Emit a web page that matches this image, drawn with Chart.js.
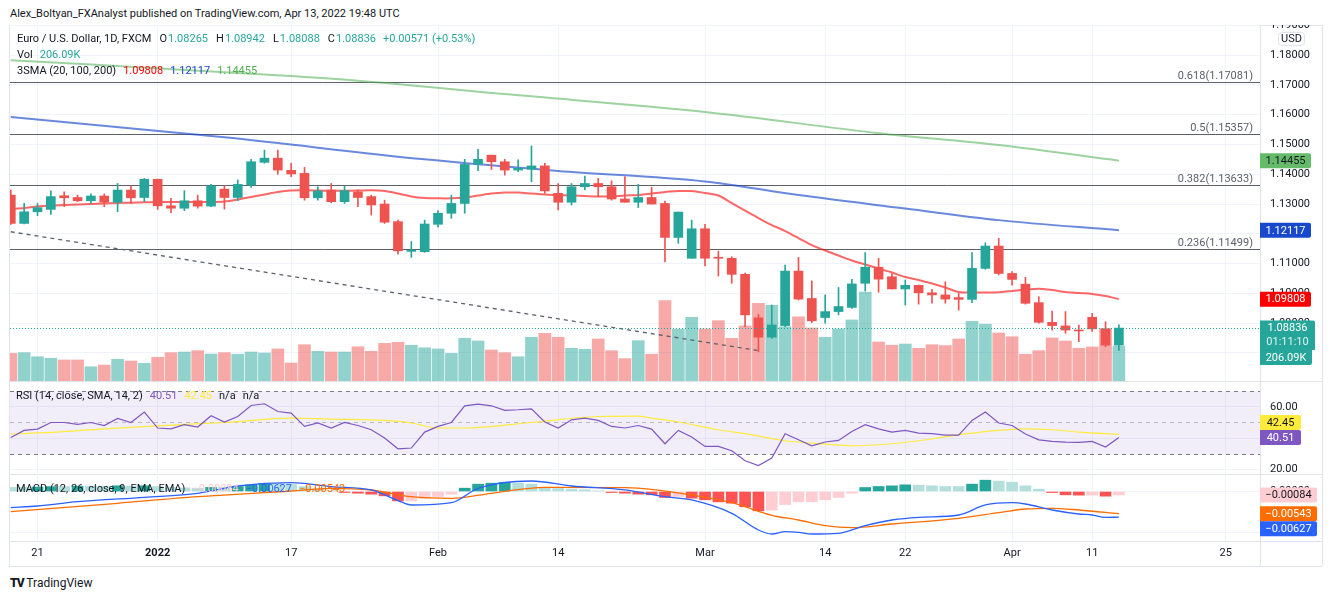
<!DOCTYPE html>
<html>
<head>
<meta charset="utf-8">
<title>EUR/USD 1D</title>
<script src="https://cdn.jsdelivr.net/npm/chart.js@4.4.1/dist/chart.umd.min.js"></script>
<style>
  body {
    margin: 0; width: 1332px; height: 599px; position: relative; overflow: hidden;
    background: #fff; color: #131722;
    font-family: Roboto, "Liberation Sans", Arial, sans-serif;
  }
  canvas { position: absolute; left: 10px; }
  .hline { position: absolute; left: 9px; width: 1313px; height: 1px; background: #e0e3eb; }
  .vline { position: absolute; top: 25px; width: 1px; height: 541px; background: #e0e3eb; }
  .txt { position: absolute; font-size: 11px; line-height: 14px; white-space: nowrap; z-index: 2; }
  .k { margin-left: 8px; }
  .v { margin-left: 1px; }
  .g { margin-left: 7px; }
  .up { color: #26a69a; }
</style>
</head>
<body>

<div class="txt" style="left:10px; top:7px;">Alex_Boltyan_FXAnalyst published on TradingView.com, Apr 13, 2022 19:48 UTC</div>

<div class="hline" style="top:25px"></div>
<div class="hline" style="top:381px"></div>
<div class="hline" style="top:474px"></div>
<div class="hline" style="top:541px"></div>
<div class="hline" style="top:566px"></div>
<div class="vline" style="left:9px"></div>
<div class="vline" style="left:1260px"></div>
<div class="vline" style="left:1322px"></div>

<canvas id="priceChart" width="1312" height="356" style="top:25px"></canvas>
<canvas id="rsiChart" width="1312" height="93" style="top:381px"></canvas>
<canvas id="macdChart" width="1312" height="92" style="top:474px"></canvas>

<!-- pane legends -->
<div class="txt" style="left:17px; top:32px;">Euro / U.S. Dollar, 1D, FXCM<span class="k">O</span><span class="v up">1.08265</span><span class="k">H</span><span class="v up">1.08942</span><span class="k">L</span><span class="v up">1.08088</span><span class="k">C</span><span class="v up">1.08836</span><span class="g up">+0.00571 (+0.53%)</span></div>
<div class="txt" style="left:17px; top:48px;">Vol<span class="g up">206.09K</span></div>
<div class="txt" style="left:17px; top:64px;">3SMA (20, 100, 200)<span class="g" style="color:#ff0000">1.09808</span><span class="g" style="color:#1848cc">1.12117</span><span class="g" style="color:#4caf50">1.14455</span></div>
<div class="txt" style="left:16px; top:389px;">RSI (14, close, SMA, 14, 2)<span class="g" style="color:#7e57c2">40.51</span><span class="g" style="color:#ffeb3b">42.45</span><span class="g">n/a</span><span class="g">n/a</span></div>
<div class="txt" style="left:16px; top:482px;">MACD (12, 26, close, 9, EMA, EMA)<span class="g" style="color:#ffcdd2">&minus;0.00084</span><span class="g" style="color:#2962ff">&minus;0.00627</span><span class="g" style="color:#ff6d00">&minus;0.00543</span></div>

<div class="txt" style="left:10px; top:576px; font-size:12px;"><b style="font-weight:900; letter-spacing:-1px">TV</b> TradingView</div>

<script>
/* ===============================
   DATA
================================ */

// trading days, Dec 17 2021 .. Apr 13 2022
const dates = [
  "12-17","12-20","12-21","12-22","12-23","12-24","12-27","12-28","12-29","12-30","12-31",
  "01-03","01-04","01-05","01-06","01-07","01-10","01-11","01-12","01-13","01-14",
  "01-17","01-18","01-19","01-20","01-21","01-24","01-25","01-26","01-27","01-28","01-31",
  "02-01","02-02","02-03","02-04","02-07","02-08","02-09","02-10","02-11",
  "02-14","02-15","02-16","02-17","02-18","02-21","02-22","02-23","02-24","02-25","02-28",
  "03-01","03-02","03-03","03-04","03-07","03-08","03-09","03-10","03-11",
  "03-14","03-15","03-16","03-17","03-18","03-21","03-22","03-23","03-24","03-25",
  "03-28","03-29","03-30","03-31","04-01","04-04","04-05","04-06","04-07","04-08",
  "04-11","04-12","04-13"
];

const openP = [
  1.1330,1.1235,1.1274,1.1282,1.1328,1.1322,1.1311,1.1327,1.1306,1.1347,1.1322,
  1.1383,1.1294,1.1286,1.1311,1.1293,1.1350,1.1322,1.1364,1.1440,1.1454,
  1.1413,1.1403,1.1321,1.1347,1.1308,1.1341,1.1325,1.1300,1.1241,1.1141,1.1140,
  1.1232,1.1269,1.1302,1.1434,1.1464,1.1442,1.1414,1.1417,1.1428,
  1.1336,1.1306,1.1358,1.1369,1.1358,1.1317,1.1306,1.1322,1.1302,1.1188,1.1118,
  1.1217,1.1121,1.1118,1.1064,1.0918,1.0853,1.0892,1.1075,1.0983,
  1.0919,1.0939,1.0953,1.1034,1.1088,1.1056,1.1015,1.1027,1.1002,1.0995,
  1.0986,1.0980,1.1084,1.1159,1.1067,1.1031,1.0969,1.0903,1.0891,1.0877,
  1.0920,1.0881,1.08265
];
const highP = [
  1.1347,1.1302,1.1302,1.1344,1.1341,1.1330,1.1334,1.1334,1.1369,1.1361,1.1386,
  1.1384,1.1319,1.1345,1.1330,1.1366,1.1361,1.1381,1.1450,1.1481,1.1481,
  1.1437,1.1423,1.1358,1.1369,1.1360,1.1347,1.1330,1.1313,1.1246,1.1174,1.1246,
  1.1278,1.1330,1.1450,1.1484,1.1464,1.1450,1.1448,1.1495,1.1437,
  1.1369,1.1369,1.1394,1.1386,1.1378,1.1392,1.1366,1.1356,1.1310,1.1273,1.1246,
  1.1232,1.1142,1.1123,1.1068,1.0930,1.0961,1.1095,1.1121,1.1042,
  1.0995,1.1020,1.1047,1.1137,1.1118,1.1067,1.1045,1.1028,1.1014,1.1039,
  1.1000,1.1137,1.1170,1.1185,1.1073,1.1054,1.0989,1.0941,1.0939,1.0894,
  1.0933,1.0905,1.08942
];
const lowP = [
  1.1232,1.1233,1.1261,1.1265,1.1291,1.1308,1.1302,1.1291,1.1274,1.1302,1.1308,
  1.1282,1.1271,1.1278,1.1286,1.1291,1.1283,1.1311,1.1356,1.1437,1.1400,
  1.1392,1.1313,1.1313,1.1304,1.1302,1.1291,1.1263,1.1235,1.1132,1.1121,1.1138,
  1.1222,1.1252,1.1269,1.1412,1.1416,1.1397,1.1409,1.1375,1.1336,
  1.1280,1.1297,1.1347,1.1325,1.1313,1.1306,1.1288,1.1300,1.1106,1.1168,1.1118,
  1.1092,1.1058,1.1034,1.0888,1.0804,1.0849,1.0888,1.0978,1.0902,
  1.0900,1.0928,1.0950,1.1008,1.1004,1.1015,1.0961,1.0964,1.0967,1.0967,
  1.0944,1.0969,1.1081,1.1062,1.1028,1.0964,1.0900,1.0877,1.0866,1.0838,
  1.0872,1.0821,1.08088
];
const closeP = [
  1.1235,1.1274,1.1288,1.1325,1.1321,1.1311,1.1327,1.1306,1.1347,1.1321,1.1383,
  1.1294,1.1286,1.1311,1.1293,1.1361,1.1322,1.1366,1.1442,1.1454,1.1414,
  1.1401,1.1321,1.1344,1.1308,1.1345,1.1322,1.1297,1.1239,1.1143,1.1145,1.1233,
  1.1269,1.1302,1.1433,1.1450,1.1442,1.1414,1.1420,1.1428,1.1344,
  1.1306,1.1358,1.1369,1.1358,1.1317,1.1306,1.1322,1.1300,1.1188,1.1273,1.1217,
  1.1118,1.1118,1.1064,1.0928,1.0853,1.0894,1.1075,1.0981,1.0908,
  1.0939,1.0956,1.1032,1.1088,1.1048,1.1015,1.1027,1.1002,1.0995,1.0981,
  1.0980,1.1084,1.1159,1.1067,1.1047,1.0967,1.0903,1.0892,1.0877,1.0874,
  1.0881,1.08265,1.08836
];

// volume, thousands
const volume = [
  163,167,143,134,124,124,84,94,128,118,104,
  140,167,171,179,159,167,158,171,165,189,
  106,214,175,171,171,202,175,222,228,211,196,
  189,163,252,236,183,167,143,258,281,
  258,193,187,248,179,132,238,158,474,305,375,
  307,356,252,325,458,447,320,379,313,
  258,307,360,525,230,211,218,193,214,209,
  248,352,335,283,261,158,179,254,236,193,
  201,309,206.09
];

// SMA 20 per bar
const sma20 = [
  1.12832,1.12866,1.12916,1.12950,1.12966,1.12983,1.13000,1.13017,1.13034,1.13044,1.13057,
  1.13067,1.13067,1.13067,1.13067,1.13067,1.13084,1.13151,1.13235,1.13319,1.13403,
  1.13453,1.13460,1.13453,1.13446,1.13446,1.13453,1.13460,1.13436,1.13352,1.13252,1.13201,
  1.13191,1.13191,1.13218,1.13285,1.13352,1.13386,1.13386,1.13352,1.13319,
  1.13302,1.13285,1.13268,1.13252,1.13252,1.13285,1.13302,1.13352,1.13403,1.13436,1.13436,
  1.13369,1.13285,1.13034,1.12782,1.12530,1.12295,1.12094,1.11859,1.11624,
  1.11440,1.11272,1.11104,1.10970,1.10836,1.10701,1.10550,1.10450,1.10332,1.10198,
  1.10047,1.10030,1.10030,1.10037,1.10081,1.10131,1.10158,1.10114,1.10047,1.10013,
  1.09980,1.09913,1.09808
];

// SMA 100 / 200, sampled at bar indexes
const sma100Idx = [0, 16, 31, 41, 52, 59, 67, 74, 83];
const sma100 = [1.1592, 1.1524, 1.1450, 1.1411, 1.1376, 1.1330, 1.1285, 1.1246, 1.12117];
const sma200Idx = [0, 17, 26, 37, 52, 65, 74, 83];
const sma200 = [1.1783, 1.1740, 1.1714, 1.1669, 1.1609, 1.1538, 1.1498, 1.14455];

// fib retracement levels
const fibRatios = ["0.618", "0.5", "0.382", "0.236"];
const fibLevels = [1.17081, 1.15357, 1.13633, 1.11499];

// dashed trend line (bar index, price)
const trendIdx = [0, 56];
const trendPrice = [1.1207, 1.0808];

// RSI 14 per bar
const rsi = [
  40.5,45.0,45.8,50.0,50.0,48.8,50.0,48.1,52.6,50.0,56.6,
  46.5,46.0,48.6,47.1,54.3,50.3,53.8,60.8,61.9,57.0,
  56.0,47.5,49.7,46.5,50.0,48.1,45.4,40.1,33.3,33.8,43.9,
  47.5,50.0,60.6,61.7,60.6,57.7,58.1,58.7,50.3,
  46.5,51.7,52.8,51.3,47.5,46.5,48.1,45.8,36.5,45.0,40.8,
  34.8,34.8,32.1,25.7,22.7,27.4,42.9,39.0,35.2,
  37.6,38.6,44.3,48.6,46.0,43.9,45.0,43.3,42.9,42.0,
  42.0,51.3,56.6,49.7,48.1,42.7,39.0,38.0,37.6,37.4,
  38.0,34.4,40.51
];
const rsiMaIdx = [0, 3, 7, 11, 16, 21, 24, 28, 30, 32, 34, 39, 44, 47, 48, 50, 53, 55, 58, 61, 63, 66, 68, 71, 76, 78, 80, 83];
const rsiMa = [42.7, 43.7, 46.0, 47.9, 50.0, 52.8, 52.2, 51.3, 49.7, 46.5, 46.5, 50.0, 53.8, 54.0, 52.8, 50.3, 45.4, 42.9, 38.4, 36.3, 35.2, 36.5, 38.4, 42.2, 46.0, 45.4, 43.9, 42.45];

// MACD 12/26/9
const macdIdx = [0, 2, 5, 10, 14, 17, 21, 24, 27, 29, 30, 33, 35, 39, 42, 46, 49, 51, 54, 56,
  57, 58, 59, 60, 62, 64, 66, 68, 71, 73, 75, 76, 78, 80, 81, 82, 83];
const macd = [-0.00395, -0.00354, -0.00249, -0.00141, -0.00045, 0.00134, 0.00215, 0.00117, 0.00037, -0.0022,
  -0.00329, -0.00273, 0.00078, 0.00256, 0.00134, 0.0004, -0.00127, -0.00207, -0.00532, -0.00939,
  -0.01037, -0.0098, -0.00995, -0.01037, -0.0102, -0.00834, -0.00695, -0.00629, -0.00573, -0.00329,
  -0.00273, -0.00305, -0.00451, -0.00549, -0.00573, -0.00629, -0.00627];
const signalIdx = [0, 8, 14, 21, 24, 27, 30, 33, 36, 40, 46, 48, 51, 54, 57, 59, 61, 63, 66, 71, 74, 76, 78, 80, 83];
const signal = [-0.00493, -0.00288, -0.00127, 0.00012, 0.00078, 0.00037, -0.00127, -0.00166, -0.00044, 0.00102,
  0.00093, 0.00054, -0.00085, -0.00273, -0.0058, -0.00695, -0.00834, -0.00883, -0.00793, -0.00654,
  -0.00517, -0.00427, -0.0041, -0.00451, -0.00543];
const hist = [
  0.0010,0.0010,0.0011,0.0012,0.0012,0.0013,0.0013,0.0013,0.0014,0.0013,0.0014,
  0.0012,0.0010,0.0009,0.0008,0.0010,0.0010,0.0012,0.0016,0.0019,0.0019,
  0.0017,0.0012,0.0007,0.0002,-0.00024,-0.00041,-0.00065,-0.00106,-0.00228,-0.00228,-0.0017,
  -0.00122,-0.00065,0.00081,0.00179,0.00203,0.0022,0.00203,0.00179,0.00098,
  0.00073,0.00057,0.00041,0.00016,-0.00024,-0.00041,-0.00065,-0.0008,-0.00146,-0.00122,-0.00163,
  -0.00203,-0.00252,-0.00285,-0.00374,-0.00472,-0.00455,-0.00317,-0.00252,-0.00252,
  -0.00203,-0.00146,-0.00041,0.00098,0.00122,0.00138,0.00163,0.00154,0.00138,0.00122,
  0.00122,0.00179,0.00276,0.00252,0.00228,0.00138,0.00057,-0.00024,-0.00081,-0.00089,
  -0.00088,-0.00114,-0.00084
];

// axis ticks
const tickIdx = [2, 11, 21, 32, 41, 52, 61, 67, 75, 81, 91];
const tickLabels = ["21", "2022", "17", "Feb", "14", "Mar", "14", "22", "Apr", "11", "25"];
const priceTicks = [1.08, 1.09, 1.10, 1.11, 1.12, 1.13, 1.14, 1.15, 1.16, 1.17, 1.18, 1.19];
const rsiTicks = [20, 40, 60];
const macdTicks = [-0.01, 0];

/* ===============================
   STYLE HELPERS
================================ */
const FONT = "Roboto, 'Liberation Sans', Arial, sans-serif";
const TEAL = "#26a69a";
const RED = "#ef5350";
const X_MIN = -0.06;
const X_MAX = 93.57;

Chart.defaults.font.family = FONT;

const isUp = i => closeP[i] >= openP[i];
const pts = (idx, vals) => idx.map((x, k) => ({ x: x, y: vals[k] }));
const perBar = vals => dates.map((d, i) => ({ x: i, y: vals[i] }));

function xAxis(showLabels) {
  return {
    type: "linear", min: X_MIN, max: X_MAX, offset: false,
    afterBuildTicks: s => { s.ticks = tickIdx.map(v => ({ value: v })); },
    afterFit: s => { s.height = showLabels ? 25 : 0; s.paddingLeft = 0; s.paddingRight = 0; },
    grid: { color: "#f0f3fa", drawTicks: false, offset: false },
    border: { display: false },
    ticks: {
      display: showLabels, autoSkip: false, maxRotation: 0, padding: 6, color: "#131722",
      font: c => ({ family: FONT, size: 11, weight: c.tick && c.tick.value === 11 ? "bold" : "normal" }),
      callback: v => tickLabels[tickIdx.indexOf(v)]
    }
  };
}

function rightAxis(min, max, vals, digits) {
  return {
    type: "linear", position: "right", min: min, max: max,
    afterBuildTicks: s => { s.ticks = vals.map(v => ({ value: v })); },
    afterFit: s => { s.width = 62; s.paddingTop = 0; s.paddingBottom = 0; },
    grid: { color: "#f0f3fa", drawTicks: false },
    border: { display: false },
    ticks: {
      padding: 10, color: "#131722", font: { family: FONT, size: 11 },
      callback: v => (v < 0 ? "\u2212" : "") + Math.abs(v).toFixed(digits)
    }
  };
}

function baseOptions(scales) {
  return {
    responsive: false, animation: false, devicePixelRatio: 1, events: [],
    layout: { padding: 0 },
    plugins: { legend: { display: false }, tooltip: { enabled: false } },
    scales: scales
  };
}

/* Colored value tags on the right axis */
function drawTags(chart, tags, w) {
  const { ctx, chartArea: a, scales: { y } } = chart;
  const placed = [];
  ctx.save();
  ctx.font = "11px " + FONT;
  ctx.textAlign = "center";
  ctx.textBaseline = "middle";
  tags.forEach(t => {
    let cy = y.getPixelForValue(t.value);
    // push apart overlapping tags
    placed.forEach(p => { if (Math.abs(cy - p) < 15) cy = cy < p ? p - 15 : p + 15; });
    placed.push(cy);
    ctx.fillStyle = t.bg;
    ctx.beginPath();
    ctx.roundRect(a.right, cy - 7.5, w, 15, [0, 2, 2, 0]);
    ctx.fill();
    ctx.fillStyle = t.fg;
    ctx.fillText(t.text, a.right + w / 2, cy + 0.5);
  });
  ctx.restore();
}

/* -------------------------------
   Price pane decorations
-------------------------------- */
const mainDecor = {
  id: "mainDecor",
  beforeDatasetsDraw(chart) {
    const { ctx, chartArea: a, scales: { y } } = chart;
    ctx.save();
    ctx.font = "11px " + FONT;
    ctx.textAlign = "right";
    ctx.textBaseline = "bottom";
    fibLevels.forEach((lv, k) => {
      const py = Math.round(y.getPixelForValue(lv)) + 0.5;
      ctx.strokeStyle = "#5d606b";
      ctx.lineWidth = 1;
      ctx.beginPath();
      ctx.moveTo(a.left, py);
      ctx.lineTo(a.right, py);
      ctx.stroke();
      ctx.fillStyle = "#5d606b";
      ctx.fillText(fibRatios[k] + "(" + lv.toFixed(5) + ")", a.right - 7, py - 1);
    });
    ctx.restore();
  },
  afterDatasetsDraw(chart) {
    const { ctx, chartArea: a, scales: { y } } = chart;
    const py = Math.round(y.getPixelForValue(closeP[closeP.length - 1])) + 0.5;
    ctx.save();
    ctx.strokeStyle = TEAL;
    ctx.setLineDash([1, 2]);
    ctx.beginPath();
    ctx.moveTo(a.left, py);
    ctx.lineTo(a.right, py);
    ctx.stroke();
    ctx.restore();
  },
  afterDraw(chart) {
    const { ctx, chartArea: a, scales: { y } } = chart;
    const last = dates.length - 1;
    drawTags(chart, [
      { value: sma200[sma200.length - 1], text: "1.14455", bg: "#66bb6a", fg: "#131722" },
      { value: sma100[sma100.length - 1], text: "1.12117", bg: "#1848cc", fg: "#ffffff" },
      { value: sma20[last], text: "1.09808", bg: "#ff0000", fg: "#ffffff" }
    ], 51);

    // last price + countdown + volume
    const cy = y.getPixelForValue(closeP[last]);
    ctx.save();
    ctx.font = "11px " + FONT;
    ctx.textAlign = "center";
    ctx.textBaseline = "middle";
    ctx.fillStyle = TEAL;
    ctx.beginPath();
    ctx.roundRect(a.right, cy - 7.5, 55, 29.5, [0, 2, 0, 0]);
    ctx.roundRect(a.right, cy + 22, 52, 15, [0, 0, 2, 0]);
    ctx.fill();
    ctx.fillStyle = "#ffffff";
    ctx.fillText("1.08836", a.right + 27.5, cy + 0.5);
    ctx.fillStyle = "rgba(255,255,255,0.85)";
    ctx.fillText("01:11:10", a.right + 27.5, cy + 14);
    ctx.fillStyle = "#ffffff";
    ctx.fillText("206.09K", a.right + 26, cy + 30);

    // currency box
    ctx.fillStyle = "#ffffff";
    ctx.strokeStyle = "#e0e3eb";
    ctx.beginPath();
    ctx.roundRect(a.right + 18.5, 7.5, 26, 13, 3);
    ctx.fill();
    ctx.stroke();
    ctx.fillStyle = "#131722";
    ctx.fillText("USD", a.right + 31.5, 14.5);
    ctx.restore();
  }
};

/* -------------------------------
   RSI pane decorations
-------------------------------- */
const rsiDecor = {
  id: "rsiDecor",
  beforeDatasetsDraw(chart) {
    const { ctx, chartArea: a, scales: { y } } = chart;
    const y70 = Math.round(y.getPixelForValue(70)) + 0.5;
    const y50 = Math.round(y.getPixelForValue(50)) + 0.5;
    const y30 = Math.round(y.getPixelForValue(30)) + 0.5;
    ctx.save();
    ctx.fillStyle = "rgba(126,87,194,0.1)";
    ctx.fillRect(a.left, y70, a.right - a.left, y30 - y70);
    ctx.setLineDash([4, 4]);
    ctx.lineWidth = 1;
    ctx.strokeStyle = "#787b86";
    [y70, y30].forEach(py => {
      ctx.beginPath(); ctx.moveTo(a.left, py); ctx.lineTo(a.right, py); ctx.stroke();
    });
    ctx.strokeStyle = "rgba(120,123,134,0.45)";
    ctx.beginPath(); ctx.moveTo(a.left, y50); ctx.lineTo(a.right, y50); ctx.stroke();
    ctx.restore();
  },
  afterDraw(chart) {
    drawTags(chart, [
      { value: rsi[rsi.length - 1], text: "40.51", bg: "#7e57c2", fg: "#ffffff" },
      { value: rsiMa[rsiMa.length - 1], text: "42.45", bg: "#ffeb3b", fg: "#131722" }
    ], 41);
  }
};

/* -------------------------------
   MACD pane decorations
-------------------------------- */
const macdDecor = {
  id: "macdDecor",
  afterDraw(chart) {
    drawTags(chart, [
      { value: hist[hist.length - 1], text: "\u22120.00084", bg: "#ffcdd2", fg: "#131722" },
      { value: signal[signal.length - 1], text: "\u22120.00543", bg: "#ff6d00", fg: "#ffffff" },
      { value: macd[macd.length - 1], text: "\u22120.00627", bg: "#2962ff", fg: "#ffffff" }
    ], 57);
  }
};

/* ===============================
   CHARTS
================================ */

/* -------- PRICE + VOLUME -------- */
new Chart(document.getElementById("priceChart"), {
  type: "bar",
  data: {
    datasets: [
      {
        type: "bar", order: 10, yAxisID: "yVol", grouped: false, barThickness: 12,
        data: perBar(volume),
        backgroundColor: dates.map((d, i) => isUp(i) ? "rgba(38,166,154,0.5)" : "rgba(239,83,80,0.5)")
      },
      {
        type: "line", order: 6, data: pts(trendIdx, trendPrice),
        borderColor: "#5d606b", borderWidth: 1.3, borderDash: [4, 4], pointRadius: 0
      },
      {
        type: "line", order: 5, data: pts(sma200Idx, sma200),
        borderColor: "rgba(76,175,80,0.55)", borderWidth: 2, pointRadius: 0,
        cubicInterpolationMode: "monotone"
      },
      {
        type: "line", order: 4, data: pts(sma100Idx, sma100),
        borderColor: "rgba(24,72,204,0.65)", borderWidth: 2, pointRadius: 0,
        cubicInterpolationMode: "monotone"
      },
      {
        type: "line", order: 3, data: perBar(sma20),
        borderColor: "rgba(255,0,0,0.6)", borderWidth: 2, pointRadius: 0, tension: 0.3
      },
      {
        type: "bar", order: 1, grouped: false, barThickness: 1,
        data: dates.map((d, i) => ({ x: i, y: [lowP[i], highP[i]] })),
        backgroundColor: dates.map((d, i) => isUp(i) ? TEAL : RED)
      },
      {
        type: "bar", order: 0, grouped: false, barThickness: 9, minBarLength: 1,
        data: dates.map((d, i) => ({ x: i, y: [openP[i], closeP[i]] })),
        backgroundColor: dates.map((d, i) => isUp(i) ? TEAL : RED)
      }
    ]
  },
  options: baseOptions({
    x: xAxis(false),
    y: rightAxis(1.0706, 1.1901, priceTicks, 5),
    yVol: { type: "linear", display: false, min: 0, max: 2100 }
  }),
  plugins: [mainDecor]
});

/* -------- RSI -------- */
new Chart(document.getElementById("rsiChart"), {
  type: "line",
  data: {
    datasets: [
      {
        data: perBar(rsi), borderColor: "#7e57c2", borderWidth: 1.2, pointRadius: 0, tension: 0
      },
      {
        data: pts(rsiMaIdx, rsiMa), borderColor: "#ffeb3b", borderWidth: 1.2, pointRadius: 0,
        cubicInterpolationMode: "monotone"
      }
    ]
  },
  options: baseOptions({
    x: xAxis(false),
    y: rightAxis(17.3, 76.35, rsiTicks, 2)
  }),
  plugins: [rsiDecor]
});

/* -------- MACD -------- */
new Chart(document.getElementById("macdChart"), {
  type: "bar",
  data: {
    datasets: [
      {
        type: "bar", order: 3, grouped: false, barThickness: 11,
        data: perBar(hist),
        backgroundColor: hist.map((v, i) => {
          const prev = i > 0 ? hist[i - 1] : v;
          if (v >= 0) return v > prev ? "#26a69a" : "#b2dfdb";
          return v < prev ? "#ff5252" : "#ffcdd2";
        })
      },
      {
        type: "line", order: 1, data: pts(macdIdx, macd),
        borderColor: "#2962ff", borderWidth: 1.3, pointRadius: 0, cubicInterpolationMode: "monotone"
      },
      {
        type: "line", order: 2, data: pts(signalIdx, signal),
        borderColor: "#ff6d00", borderWidth: 1.3, pointRadius: 0, cubicInterpolationMode: "monotone"
      }
    ]
  },
  options: baseOptions({
    x: xAxis(true),
    y: rightAxis(-0.012073, 0.004268, macdTicks, 5)
  }),
  plugins: [macdDecor]
});
</script>
</body>
</html>
